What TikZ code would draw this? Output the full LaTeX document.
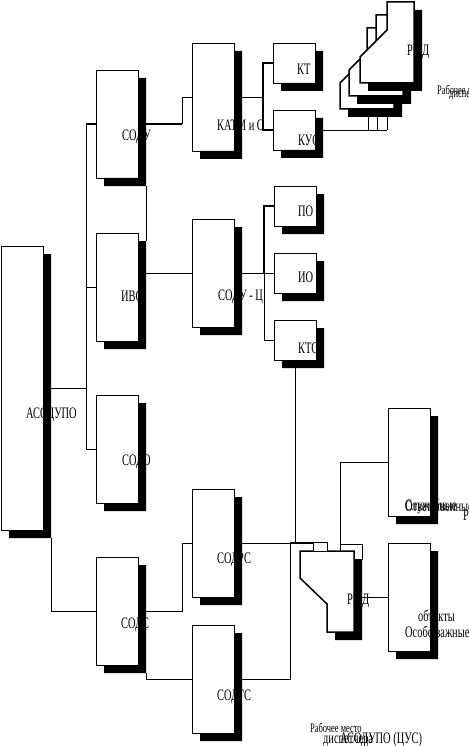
\documentclass[tikz,border=0pt]{standalone}
\usepackage{fontspec}
\setmainfont{Liberation Serif}[FakeStretch=0.65]

\tikzset{
  blk/.style={draw,fill=white,line width=0.8pt,inner sep=0pt,outer sep=0pt,minimum width=42pt,minimum height=108pt},
  sblk/.style={blk,minimum height=40pt},
  plug/.style={draw,fill=white,line width=0.7pt,inner sep=0pt,outer sep=0pt},
  lab/.style={anchor=west,inner sep=0pt,font=\fontsize{16}{18}\selectfont},
  slab/.style={lab,font=\fontsize{13}{15}\selectfont},
  con/.style={line width=0.7pt},
  tcon/.style={line width=1.6pt},
  rmd/.style={draw,fill=white,line width=1.5pt,line join=miter}
}
% тень блока и точка выхода справа
\newcommand{\blkshadow}[1]{%
  \fill ([yshift=-8pt]#1.north east) -| ([shift={(8pt,-8pt)}]#1.south east)
    -| ([xshift=8pt]#1.south west) |- (#1.south east) -- cycle;
  \coordinate (#1-r) at ([xshift=8pt]#1.east);}
% РМД (верхняя стопка)
\newcommand{\rmdup}[3]{%
  \draw[rmd,shift={(#1,#2)}] (387,2) -- (414,2) -- (414,83) -- (360,83) -- (360,57) -- (387,30) -- cycle;
  #3
  \fill[shift={(#1,#2)}] (414,10) -- (422,10) -- (422,91) -- (368,91) -- (368,83) -- (414,83) -- cycle;}

\begin{document}
\begin{tikzpicture}[x=1pt,y=-1pt]
\useasboundingbox (0,0) rectangle (468,746);
\clip (0,0) rectangle (468,746);

\coordinate (busA) at (86,0);
\coordinate (busB) at (182,0);
\coordinate (busC) at (263,0);
\coordinate (busD) at (264,0);
\coordinate (busE) at (290,0);

% левая колонка
\node[blk,minimum height=284pt] (asodupo) at (22,388) {};
\node[lab] (asodupo-lab) at (26,415) {АСОДУПО};
\blkshadow{asodupo}

\node[blk] (sodu) at (117,124) {};
\node[lab] (sodu-lab) at (122,137) {СОДУ};
\blkshadow{sodu}

\node[blk] (ivs) at (117,287) {};
\node[lab] (ivs-lab) at (121,296) {ИВС};
\blkshadow{ivs}

\node[blk] (sodo) at (117,449) {};
\node[lab] (sodo-lab) at (122,462) {СОДО};
\blkshadow{sodo}

\node[blk] (sods) at (117,611) {};
\node[lab] (sods-lab) at (121,625) {СОДС};
\blkshadow{sods}

% средняя колонка
\node[blk] (katm) at (213,97) {};
\node[lab] (katm-lab) at (217,125) {КАТМ и С};
\blkshadow{katm}

\node[blk] (soduc) at (213,273) {};
\node[lab] (soduc-lab) at (218,297) {СОДУ - Ц};
\blkshadow{soduc}

\node[blk] (sodrs) at (213,543) {};
\node[lab] (sodrs-lab) at (217,560) {СОДРС};
\blkshadow{sodrs}

\node[blk] (sodgs) at (213,679) {};
\node[lab] (sodgs-lab) at (217,697) {СОДГС};
\blkshadow{sodgs}

% малые блоки
\node[sblk] (kt) at (294,63) {};
\node[lab] (kt-lab) at (297,69) {КТ};
\blkshadow{kt}

\node[sblk] (kus) at (294,130) {};
\node[lab] (kus-lab) at (298,140) {КУС};
\blkshadow{kus}

\node[sblk] (po) at (295,206) {};
\node[lab] (po-lab) at (298,211) {ПО};
\blkshadow{po}

\node[sblk] (io) at (295,273) {};
\node[lab] (io-lab) at (298,277) {ИО};
\blkshadow{io}

\node[sblk] (kts) at (295,340) {};
\node[lab] (kts-lab) at (298,348) {КТС};
\blkshadow{kts}

% объекты справа
\node[blk] (slu) at (409,462) {};
\node[lab] (slu-lab) at (405,506) {Служебные};
\node[lab] (otv-lab) at (405,506) {Ответственные};
\node[lab] (r-lab) at (463,515) {Р};
\blkshadow{slu}

\node[blk] (osob) at (409,597) {};
\node[lab] (obj-lab) at (418,616) {объекты};
\node[lab] (osob-lab) at (405,632) {Особо важные};
\blkshadow{osob}

% РМД вверху (стопка)
\rmdup{-20}{26}{}
\rmdup{-11}{13}{}
\rmdup{0}{0}{\node[lab] (rmdup-lab) at (407,52) {РМД};}
\coordinate (rmdk) at (387,130);
\node[slab] (wp1-lab) at (437,90) {Рабочее место};
\node[slab] (wp2-lab) at (449,96) {диспетчера};

% РМД внизу
\node[plug,minimum width=22pt,minimum height=15pt] (plug2) at (351,551.5) {};
\draw[rmd] (300,551) -- (354,551) -- (354,632) -- (327,632) -- (327,604) -- (300,578) -- cycle;
\node[lab] (rmd-lab) at (347,601) {РМД};
\fill (354,559) -- (362,559) -- (362,640) -- (335,640) -- (335,632) -- (354,632) -- cycle;
\coordinate (rmd-t) at (340,551);
\coordinate (rmd-r) at (362,597);
\node[plug,minimum width=14pt,minimum height=9pt] (plug1) at (320,546.5) {};

\node[slab] (wp3-lab) at (310,728) {Рабочее место};
\node[lab] (wp4-lab) at (323,741) {диспетчера};
\node[lab] (wp5-lab) at (340,740) {АСОДУПО (ЦУС)};

% связи
\draw[con] (asodupo-r) -- (busA |- asodupo-r);
\draw[tcon] (sodu.west) -- (busA |- sodu.west);
\draw[con] (busA |- sodu.west) |- (sodo.west);
\draw[con] (busA |- ivs.west) -- (ivs.west);
\draw[con] ([shift={(8pt,-8pt)}]asodupo.south east) |- (sods.west);
\draw[tcon] (sodu-r) -- (busB |- sodu-r);
\draw[con] (busB |- sodu-r) |- (katm.west);
\draw[con] ([shift={(8pt,-8pt)}]sodu.south east) -- ([shift={(8pt,-8pt)}]ivs.north east);
\draw[con] (ivs-r |- soduc.west) -- (soduc.west);
\draw[con] (katm-r) -- (busC |- katm-r);
\draw[tcon] (kt.west) -| (busC |- kus.west) -- (kus.west);
\draw[con] (kus-r) -- (rmdk);
\foreach \dx in {0,-10,-19}
  \draw[con] ([xshift=\dx pt]rmdk) -- ++(0,-13);
\draw[con] (soduc-r) -- (io.west);
\draw[tcon] (po.west) -| (busD |- io.west);
\draw[con] (busD |- io.west) |- (kts.west);
\draw[con] (kts.south) |- (plug1.north west);
\draw[con] (sodrs-r) -- (sodrs-r -| plug1.west);
\draw[con] (sodgs-r) -| (busE |- plug1.north west) -- (plug1.north west);
\draw[con] (sods-r) -| (busB |- sodrs.west) -- (sodrs.west);
\draw[con] ([shift={(8pt,-8pt)}]sods.south east) |- (sodgs.west);
\draw[con] (slu.west) -| (rmd-t);
\draw[con] (rmd-r) -- (osob.west);
\end{tikzpicture}
\end{document}
